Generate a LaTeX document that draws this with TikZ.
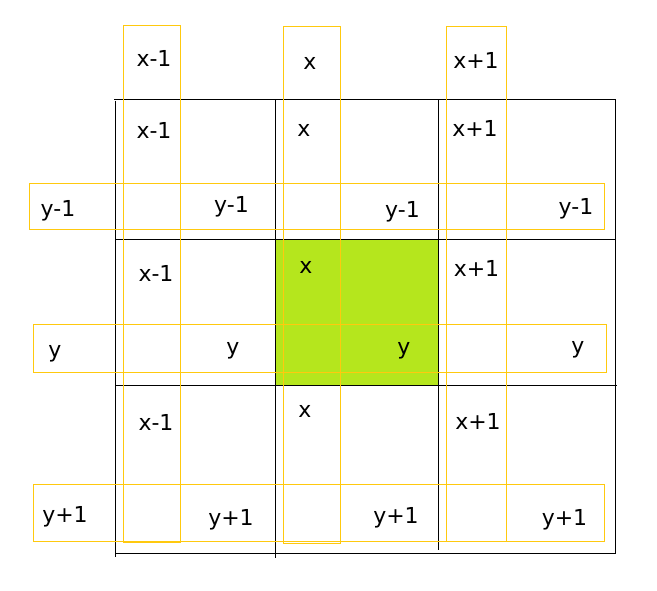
\documentclass[tikz,border=0pt]{standalone}
\usepackage{fontspec}
\setmainfont{DejaVu Sans}
\definecolor{cellgreen}{RGB}{181,230,29}
\definecolor{boxgold}{RGB}{255,201,14}
\begin{document}
\begin{tikzpicture}[x=1pt,y=-1pt,
  gridline/.style={black,line width=1.1pt},
  goldbox/.style={draw=boxgold,line width=1.1pt},
  lbl/.style={anchor=base,inner sep=0pt,font=\fontsize{22}{26}\selectfont}]
\useasboundingbox (0,0) rectangle (657,591);
% green cell
\fill[cellgreen] (275.5,239.5) rectangle (438.5,385.5);
% grid
\draw[gridline] (114,99.5) -- (615.5,99.5);
\draw[gridline] (115.5,239.5) -- (615.5,239.5);
\draw[gridline] (115.5,385.5) -- (617,385.5);
\draw[gridline] (115.5,553.5) -- (616,553.5);
\draw[gridline] (115.5,101) -- (115.5,557);
\draw[gridline] (275.5,99.5) -- (275.5,558);
\draw[gridline] (438.5,99.5) -- (438.5,550);
\draw[gridline] (615.5,99.5) -- (615.5,553.5);
% gold boxes
\draw[goldbox] (123.5,25.5) rectangle (180.5,542.5);
\draw[goldbox] (283.5,26.5) rectangle (340.5,543.5);
\draw[goldbox] (446.5,26.5) rectangle (506.5,541.5);
\draw[goldbox] (29.5,183.5) rectangle (604.5,229.5);
\draw[goldbox] (33.5,324.5) rectangle (606.5,372.5);
\draw[goldbox] (33.5,484.5) rectangle (604.5,541.5);
% top labels
\node[lbl] (tx1) at (154,67) {x-1};
\node[lbl] (tx2) at (310,70) {x};
\node[lbl] (tx3) at (476,69) {x+1};
% row 1
\node[lbl] (ax1) at (154,139) {x-1};
\node[lbl] (ax2) at (304,137) {x};
\node[lbl] (ax3) at (475,137) {x+1};
\node[lbl] (ay0) at (58,217) {y-1};
\node[lbl] (ay1) at (231.5,213) {y-1};
\node[lbl] (ay2) at (402.5,218) {y-1};
\node[lbl] (ay3) at (576,215) {y-1};
% row 2
\node[lbl] (bx1) at (156,282) {x-1};
\node[lbl] (bx2) at (306,273) {x};
\node[lbl] (bx3) at (476.5,277) {x+1};
\node[lbl] (by0) at (55,357) {y};
\node[lbl] (by1) at (233,355) {y};
\node[lbl] (by2) at (404,355) {y};
\node[lbl] (by3) at (578,353) {y};
% row 3
\node[lbl] (cx1) at (156,430) {x-1};
\node[lbl] (cx2) at (305,417) {x};
\node[lbl] (cx3) at (478,429) {x+1};
\node[lbl] (cy0) at (65,522) {y+1};
\node[lbl] (cy1) at (231,525) {y+1};
\node[lbl] (cy2) at (396,523) {y+1};
\node[lbl] (cy3) at (564.5,525) {y+1};
\end{tikzpicture}
\end{document}
